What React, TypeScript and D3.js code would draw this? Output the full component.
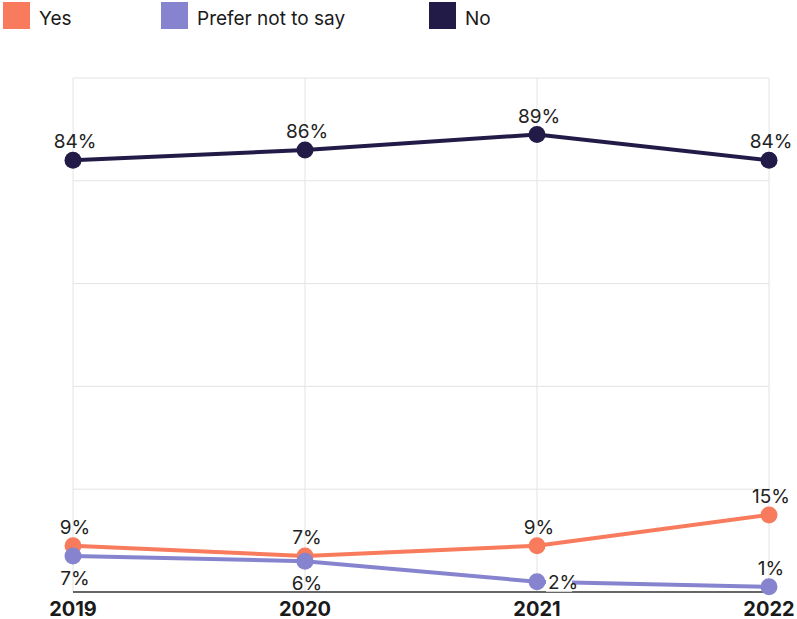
import React from "react";
import * as d3 from "d3";

const years = ["2019", "2020", "2021", "2022"];
const yesValues = [9, 7, 9, 15];
const preferValues = [7, 6, 2, 1];
const noValues = [84, 86, 89, 84];
const yTicks = [0, 20, 40, 60, 80, 100];
const seriesNames = ["Yes", "Prefer not to say", "No"];

const colors: Record<string, string> = {
  Yes: "#F77B5C",
  "Prefer not to say": "#8784CF",
  No: "#221B47",
};

// label placements: per series, per point
const placements: Record<string, string[]> = {
  Yes: ["above", "above", "above", "above"],
  "Prefer not to say": ["below", "below", "right", "above"],
  No: ["above", "above", "above", "above"],
};

const W = 797;
const H = 619;
const FONT = "Inter, 'Open Sans', sans-serif";

export default function App() {
  const x = d3.scalePoint<string>().domain(years).range([73, 769]);
  const y = d3.scaleLinear().domain([0, 100]).range([592, 78]);

  const series = [
    { name: "Yes", values: yesValues },
    { name: "Prefer not to say", values: preferValues },
    { name: "No", values: noValues },
  ];

  const line = d3
    .line<number>()
    .x((_, i) => x(years[i]) as number)
    .y((d) => y(d));

  const legendX = [3, 161, 429];

  return (
    <svg
      width={W}
      height={H}
      style={{ position: "fixed", left: 0, top: 0, background: "#fff" }}
      fontFamily={FONT}
    >
      {/* legend */}
      {seriesNames.map((n, i) => (
        <g key={n}>
          <rect x={legendX[i]} y={2} width={27} height={27} fill={colors[n]} />
          <text x={legendX[i] + 36} y={25} fontSize={19} fill="#1a1a1a">
            {n}
          </text>
        </g>
      ))}

      {/* horizontal grid */}
      {yTicks.slice(1).map((t) => (
        <line
          key={t}
          x1={73}
          x2={769}
          y1={y(t)}
          y2={y(t)}
          stroke="#e3e3e3"
          strokeWidth={1}
        />
      ))}
      {/* vertical grid */}
      {years.map((yr) => (
        <line
          key={yr}
          x1={x(yr)}
          x2={x(yr)}
          y1={y(100)}
          y2={y(0)}
          stroke="#e3e3e3"
          strokeWidth={1}
        />
      ))}
      {/* x axis */}
      <line x1={73} x2={769} y1={y(0)} y2={y(0)} stroke="#333" strokeWidth={1.5} />
      {years.map((yr) => (
        <text
          key={yr}
          x={x(yr)}
          y={616}
          textAnchor="middle"
          fontSize={20}
          fontWeight={700}
          fill="#1a1a1a"
        >
          {yr}
        </text>
      ))}

      {/* lines */}
      {series.map((s) => (
        <path
          key={s.name}
          d={line(s.values) as string}
          fill="none"
          stroke={colors[s.name]}
          strokeWidth={4}
        />
      ))}
      {/* points */}
      {series.map((s) =>
        s.values.map((v, i) => (
          <circle
            key={s.name + i}
            cx={x(years[i])}
            cy={y(v)}
            r={8.5}
            fill={colors[s.name]}
          />
        ))
      )}
      {/* labels */}
      {series.map((s) =>
        s.values.map((v, i) => {
          const px = x(years[i]) as number;
          const py = y(v);
          const p = placements[s.name][i];
          const label = `${v}%`;
          if (p === "right") {
            const tx = px + 11;
            return (
              <g key={"l" + s.name + i}>
                <rect x={tx - 2} y={py - 10} width={label.length * 10 + 6} height={20} fill="#fff" />
                <text x={tx} y={py + 7} fontSize={19} fill="#222">
                  {label}
                </text>
              </g>
            );
          }
          const ty = p === "above" ? py - 12 : py + 29;
          return (
            <text
              key={"l" + s.name + i}
              x={px + 2}
              y={ty}
              textAnchor="middle"
              fontSize={19}
              fill="#222"
            >
              {label}
            </text>
          );
        })
      )}
    </svg>
  );
}
